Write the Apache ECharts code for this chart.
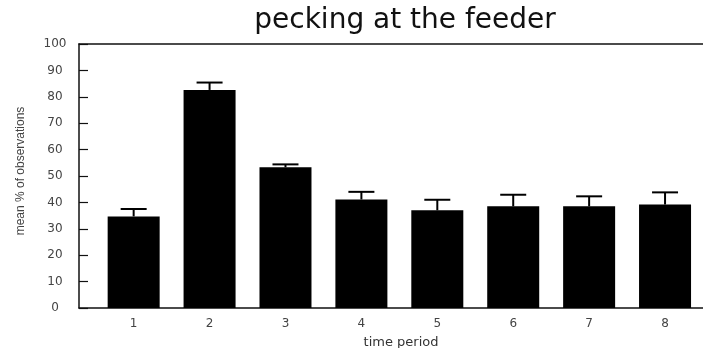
<!DOCTYPE html>
<html>
<head>
<meta charset="utf-8">
<script src="https://cdn.jsdelivr.net/npm/echarts@6/dist/echarts.min.js"></script>
<style>
html,body{margin:0;padding:0;background:#fff;}
#chart{width:703px;height:348px;}
</style>
</head>
<body>
<div id="chart"></div>
<script>
const categories = [1, 2, 3, 4, 5, 6, 7, 8];
const means = [34.7, 82.6, 53.3, 41.1, 37.0, 38.5, 38.5, 39.2];
const errors = [2.8, 2.8, 1.1, 2.9, 4.0, 4.4, 3.8, 4.6];
const yTicks = [0, 10, 20, 30, 40, 50, 60, 70, 80, 90, 100];

const barData = categories.map((c, i) => [c, means[i]]);
const errData = categories.map((c, i) => [c, means[i], means[i] + errors[i]]);

const chart = echarts.init(document.getElementById('chart'));
const axisCol = '#111';
chart.setOption({
  animation: false,
  backgroundColor: '#fff',
  title: {
    text: 'pecking at the feeder',
    left: 400,
    top: 2,
    textAlign: 'center',
    textStyle: { fontFamily: 'DejaVu Sans', fontSize: 28, fontWeight: 'normal', color: '#111' }
  },
  grid: { left: 79, right: 0, top: 44, bottom: 40, containLabel: false, outerBoundsMode: 'none' },
  xAxis: [{
    type: 'value',
    min: 0.28,
    max: 8.5,
    name: 'time period',
    nameLocation: 'middle',
    nameGap: 28,
    nameTextStyle: { fontFamily: 'DejaVu Sans', fontSize: 13, color: '#333', padding: [0, 0, 0, 20] },
    axisLine: { show: true, onZero: false, lineStyle: { color: axisCol, width: 1.5 } },
    axisTick: { show: false },
    splitLine: { show: false },
    axisLabel: {
      customValues: categories,
      margin: 10,
      fontFamily: 'DejaVu Sans', fontSize: 12, color: '#444'
    }
  }, {
    type: 'value',
    position: 'top',
    min: 0.28,
    max: 8.5,
    axisLine: { show: true, onZero: false, lineStyle: { color: axisCol, width: 1.5 } },
    axisTick: { show: false },
    splitLine: { show: false },
    axisLabel: { show: false }
  }],
  yAxis: {
    type: 'value',
    min: 0,
    max: 100,
    interval: 10,
    axisLine: { show: true, lineStyle: { color: axisCol, width: 1.5 } },
    axisTick: { show: true, inside: true, length: 9, lineStyle: { color: axisCol, width: 1.2 } },
    splitLine: { show: false },
    axisLabel: {
      margin: 24,
      align: 'center',
      fontFamily: 'DejaVu Sans', fontSize: 12, color: '#444',
      formatter: v => (yTicks.indexOf(v) >= 0 ? String(v) : '')
    }
  },
  graphic: [{
    type: 'text',
    x: 21,
    y: 171,
    rotation: Math.PI / 2,
    style: {
      text: 'mean % of observations',
      fontFamily: "'Liberation Sans', Arial, sans-serif",
      fontSize: 12,
      fill: '#444',
      textAlign: 'center',
      textVerticalAlign: 'middle'
    }
  }],
  series: [{
    type: 'bar',
    data: barData,
    barWidth: 52,
    itemStyle: { color: '#000' }
  }, {
    type: 'custom',
    data: errData,
    z: 3,
    renderItem: function (params, api) {
      const base = api.coord([api.value(0), api.value(1)]);
      const top = api.coord([api.value(0), api.value(2)]);
      const hw = 13;
      return {
        type: 'group',
        children: [{
          type: 'line',
          shape: { x1: base[0], y1: base[1], x2: top[0], y2: top[1] },
          style: { stroke: '#000', lineWidth: 2 }
        }, {
          type: 'line',
          shape: { x1: top[0] - hw, y1: top[1], x2: top[0] + hw, y2: top[1] },
          style: { stroke: '#000', lineWidth: 2 }
        }]
      };
    }
  }]
});
</script>
</body>
</html>
